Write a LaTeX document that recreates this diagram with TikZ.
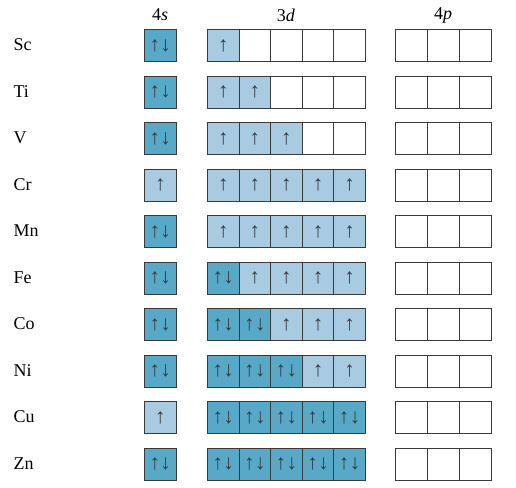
\documentclass[tikz,border=0pt]{standalone}
\usepackage{fontspec}
\setmainfont{Liberation Serif}
\newfontfamily\arrowfont{Liberation Sans}
\definecolor{darkorb}{HTML}{58A9C7}
\definecolor{lightorb}{HTML}{A9CBE2}
\definecolor{edge}{HTML}{3A3A3A}
\newcommand{\UP}{↑}
\newcommand{\UD}{↑\kern0.5pt↓}
\begin{document}
\begin{tikzpicture}[x=1pt,y=-1pt,
  orb/.style={draw=edge,line width=0.9pt,minimum width=31.6pt,minimum height=32pt,inner sep=0pt,anchor=north west,font=\arrowfont\fontsize{21}{21}\selectfont,text=edge},
  s0/.style={orb,fill=white},
  s1/.style={orb,fill=lightorb},
  s2/.style={orb,fill=darkorb},
  elem/.style={anchor=west,font=\fontsize{18}{18}\selectfont},
  head/.style={font=\fontsize{18}{18}\selectfont}]
\useasboundingbox (0,0) rectangle (516,487);
\node[head] (h4s) at (160,15) {4\textit{s}};
\node[head] (h3d) at (286,15) {3\textit{d}};
\node[head] (h4p) at (443,15) {4\textit{p}};
\foreach \el/\s/\a/\b/\c/\d/\e [count=\i from 0] in {
  Sc/2/1/0/0/0/0, Ti/2/1/1/0/0/0, V/2/1/1/1/0/0, Cr/1/1/1/1/1/1,
  Mn/2/1/1/1/1/1, Fe/2/2/1/1/1/1, Co/2/2/2/1/1/1, Ni/2/2/2/2/1/1,
  Cu/1/2/2/2/2/2, Zn/2/2/2/2/2/2}{
  \pgfmathsetmacro{\yy}{29+46.5*\i}
  \node[elem] (e\i) at (10,\yy+16) {\el};
  \node[s\s] (s\i) at (144,\yy) {\ifnum\s=2 \UD\else\ifnum\s=1 \UP\fi\fi};
  \foreach \v [count=\k from 0] in {\a,\b,\c,\d,\e}{
    \node[s\v] (d\i-\k) at (207+31.6*\k,\yy) {\ifnum\v=2 \UD\else\ifnum\v=1 \UP\fi\fi};
  }
  \foreach \k in {0,1,2}{
    \node[s0,minimum width=32pt] (p\i-\k) at (395+32*\k,\yy) {};
  }
}
\end{tikzpicture}
\end{document}
